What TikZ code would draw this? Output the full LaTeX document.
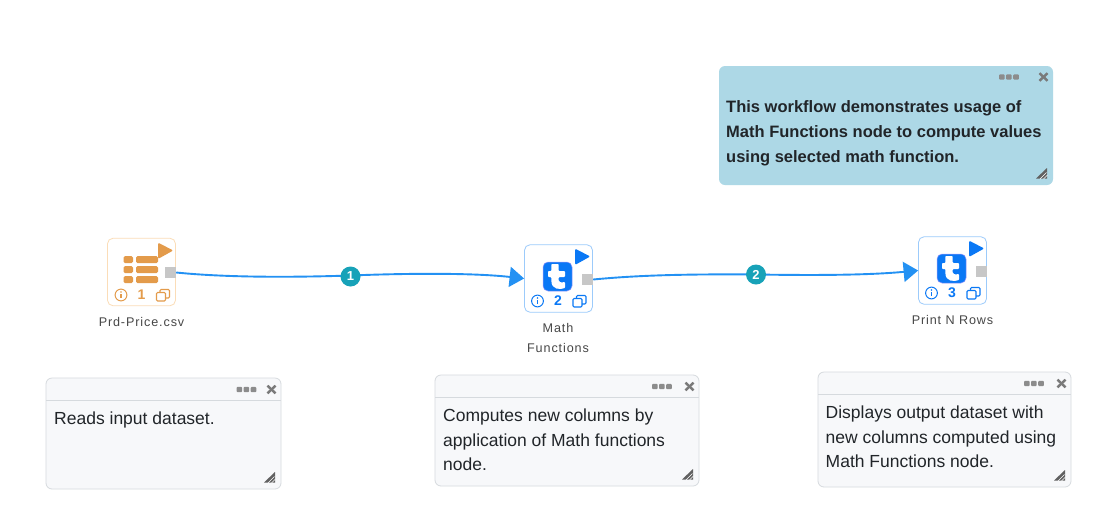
\documentclass[tikz,border=0pt]{standalone}
\usepackage{fontspec}
\setmainfont{Liberation Sans}
\newfontfamily\lblfont[LetterSpace=7]{Liberation Sans}
\usetikzlibrary{arrows.meta,calc}
\definecolor{orng}{HTML}{E39B4B}
\definecolor{orngb}{HTML}{FBDDB8}
\definecolor{blu}{HTML}{0A78F5}
\definecolor{blub}{HTML}{9CCBFB}
\definecolor{edge}{HTML}{2391F3}
\definecolor{badge}{HTML}{17A2B8}
\definecolor{notebg}{HTML}{F7F8FA}
\definecolor{noteln}{HTML}{D6DADE}
\definecolor{topbg}{HTML}{ADD8E6}
\definecolor{ink}{HTML}{212529}
\tikzset{
  taskbox/.style={draw=#1,line width=0.8pt,rounded corners=5.5pt,fill=white,minimum width=68pt,minimum height=67.5pt,inner sep=0pt},
  portbox/.style={fill=black!22,minimum width=11pt,minimum height=11pt,inner sep=0pt},
  playtri/.style={fill=#1,draw=#1,line width=1.6pt,line join=round},
  tasklabel/.style={font=\lblfont\fontsize{12.6}{20}\selectfont,text=black!72,align=center,inner sep=0pt},
  numtext/.style={font=\bfseries\fontsize{14}{14}\selectfont,text=#1,inner sep=0pt},
  flow/.style={draw=edge,line width=1.9pt,-{Triangle[length=14.5pt,width=20pt]}},
  badgenode/.style={circle,fill=badge,minimum size=20pt,inner sep=0pt,text=white,font=\bfseries\fontsize{13}{13}\selectfont},
  ticon/.style={fill=blu,draw=blu!70!magenta!60,line width=0.5pt,rounded corners=5pt,minimum width=29pt,minimum height=29pt,inner sep=0pt},
  notebody/.style={anchor=north west,inner sep=0pt,align=left,text=ink,font=\fontsize{17.5}{24.8}\selectfont},
}
% white logo letter of the tool icon, centred on a named node
\newcommand{\tmark}[1]{%
  \fill[white,rounded corners=0.8pt,shift={(#1)}] (-6.2,-12.5) -- (1.2,-12.5) -- (1.2,-5.5) -- (7.5,-5.5) -- (7.5,0.5) -- (1.2,0.5) -- (1.2,3)
    .. controls (1.2,5.5) and (3,6.3) .. (7.5,5.5) -- (7.5,11.5)
    .. controls (3,12.9) and (-6.2,14) .. (-6.2,3) -- (-6.2,0.5) -- (-9.5,0.5) -- (-9.5,-5.5) -- (-6.2,-5.5) -- cycle;
}
% info, number and copy icons
\newcommand{\iconrow}[5]{% x y colour number name
  \draw[#3,line width=1pt] (#1,#2) circle (5.9);
  \fill[#3] (#1,#2-3) circle (0.9);
  \draw[#3,line width=1.2pt] (#1,#2-1) -- (#1,#2+3.2);
  \node[numtext=#3] (#5) at (#1+20.5,#2) {#4};
  \draw[#3,line width=1.1pt,rounded corners=1.2pt] (#1+35.5,#2-2.5) rectangle (#1+44.5,#2+6);
  \draw[#3,line width=1.1pt,rounded corners=1.2pt] (#1+39,#2-2.5) -- (#1+39,#2-5.5) -- (#1+48.5,#2-5.5) -- (#1+48.5,#2+3) -- (#1+44.5,#2+3);
}
% note furniture: first dot x, right edge x, header centre y, bottom y
\newcommand{\notekit}[4]{%
  \fill[black!45,rounded corners=1pt] (#1,#3-2.7) rectangle ++(5.6,5.4);
  \fill[black!45,rounded corners=1pt] (#1+7.1,#3-2.7) rectangle ++(5.6,5.4);
  \fill[black!45,rounded corners=1pt] (#1+14.2,#3-2.7) rectangle ++(5.6,5.4);
  \draw[black!52,line width=2.4pt] (#2-13.5,#3-3.8) -- (#2-5.5,#3+3.8);
  \draw[black!52,line width=2.4pt] (#2-13.5,#3+3.8) -- (#2-5.5,#3-3.8);
  \fill[black!62] (#2-17,#4-6.5) -- (#2-6,#4-6.5) -- (#2-6,#4-17) -- cycle;
  \draw[white,line width=0.4pt] (#2-13,#4-6) -- (#2-6.5,#4-12.5);
  \draw[white,line width=0.4pt] (#2-9.5,#4-6) -- (#2-5.5,#4-10);
}
\begin{document}
\begin{tikzpicture}[x=1pt,y=-1pt]
\useasboundingbox[fill=white] (0,0) rectangle (1112,531);

% top note
\node[fill=topbg,rounded corners=6pt,minimum width=334pt,minimum height=119pt,inner sep=0pt] (notetop) at (886,125.5) {};
\node[notebody,font=\bfseries\fontsize{16.5}{25}\selectfont] (notetoptext) at (726,100.3) {This workflow demonstrates usage of\\Math Functions node to compute values\\using selected math function.};
\notekit{999}{1053}{77}{185}

% lower notes
\node[draw=noteln,line width=0.8pt,fill=notebg,rounded corners=6pt,minimum width=235pt,minimum height=111pt,inner sep=0pt] (notea) at (163.5,433.5) {};
\draw[noteln,line width=0.8pt] (46,400) -- (281,400);
\node[notebody] (noteatext) at (54,411.5) {Reads input dataset.};
\notekit{236.5}{281}{389.5}{489}

\node[draw=noteln,line width=0.8pt,fill=notebg,rounded corners=6pt,minimum width=264pt,minimum height=111pt,inner sep=0pt] (noteb) at (567,430.5) {};
\draw[noteln,line width=0.8pt] (435,397) -- (699,397);
\node[notebody] (notebtext) at (443,408.5) {Computes new columns by\\application of Math functions\\node.};
\notekit{652}{699}{386.5}{486}

\node[draw=noteln,line width=0.8pt,fill=notebg,rounded corners=6pt,minimum width=253pt,minimum height=115pt,inner sep=0pt] (notec) at (944.5,429.5) {};
\draw[noteln,line width=0.8pt] (818,394) -- (1071,394);
\node[notebody] (notectext) at (825.5,405.5) {Displays output dataset with\\new columns computed using\\Math Functions node.};
\notekit{1024}{1071}{383.5}{487}

% task nodes
\node[taskbox=orngb] (task1) at (141.5,272) {};
\node[taskbox=blub] (task2) at (558.5,278.5) {};
\node[taskbox=blub] (task3) at (952.5,270.5) {};

% task 1 content
\foreach \yy in {256,266,276}{
  \fill[orng,rounded corners=1.5pt] (123.5,\yy) rectangle (133,\yy+7);
  \fill[orng,rounded corners=1.5pt] (136,\yy) rectangle (158,\yy+7);
}
\fill[playtri=orng] (159,244) -- (171.5,250.5) -- (159,257.5) -- cycle;
\iconrow{121}{295}{orng}{1}{num1}

% t icons
\node[ticon] (ticon2) at (557.5,276.5) {};
\node[ticon] (ticon3) at (951.5,268.5) {};
\tmark{ticon2}
\tmark{ticon3}
\fill[playtri=blu] (576,250) -- (588.5,256.5) -- (576,263.5) -- cycle;
\fill[playtri=blu] (970,242) -- (982.5,248.5) -- (970,255.5) -- cycle;
\iconrow{537.5}{301}{blu}{2}{num2}
\iconrow{931.5}{293}{blu}{3}{num3}

% connectors
\node[portbox] (port1) at (170.5,272.5) {};
\node[portbox] (port2) at (587.5,279.5) {};
\node[portbox] (port3) at (981.5,271.5) {};
\coordinate (mid1) at (350.5,275.5);
\coordinate (mid2) at (756,274.5);
\draw[flow] (port1.east) .. controls (225,277.5) and (290,277.5) .. (mid1)
  .. controls (400,273.5) and (470,272.5) .. (task2.west);
\draw[flow] (port2.east) .. controls (640,275) and (690,274) .. (mid2)
  .. controls (820,275.5) and (870,275) .. (task3.west);
\node[badgenode] (badge1) at (350.5,276.5) {1};
\node[badgenode] (badge2) at (756,274.5) {2};

% labels
\node[tasklabel] (label1) at (141.5,321.5) {Prd-Price.csv};
\node[tasklabel] (label2) at (558,337.5) {Math\\Functions};
\node[tasklabel] (label3) at (952.5,319.5) {Print N Rows};
\end{tikzpicture}
\end{document}
